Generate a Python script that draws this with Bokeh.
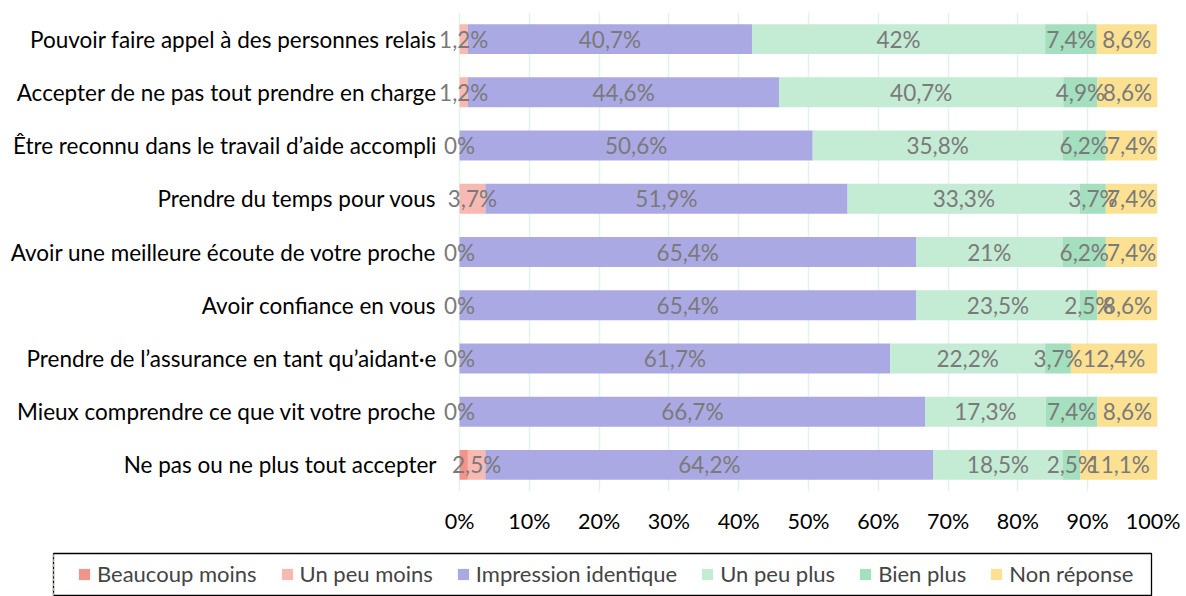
from bokeh.plotting import figure
from bokeh.layouts import column
from bokeh.models import (ColumnDataSource, FactorRange, Legend, LegendItem, LabelSet,
                          FixedTicker, Range1d)
from bokeh.embed import file_html
from bokeh.resources import INLINE
from bokeh.core.properties import value

categories = [
    "Pouvoir faire appel à des personnes relais",
    "Accepter de ne pas tout prendre en charge",
    "Être reconnu dans le travail d’aide accompli",
    "Prendre du temps pour vous",
    "Avoir une meilleure écoute de votre proche",
    "Avoir confiance en vous",
    "Prendre de l’assurance en tant qu’aidant·e",
    "Mieux comprendre ce que vit votre proche",
    "Ne pas ou ne plus tout accepter",
]
series_names = ["Beaucoup moins", "Un peu moins", "Impression identique",
                "Un peu plus", "Bien plus", "Non réponse"]
beaucoup_moins = [0, 0, 0, 0, 0, 0, 0, 0, 1.2]
un_peu_moins = [1.2, 1.2, 0, 3.7, 0, 0, 0, 0, 2.5]
impression_identique = [40.7, 44.6, 50.6, 51.9, 65.4, 65.4, 61.7, 66.7, 64.2]
un_peu_plus = [42, 40.7, 35.8, 33.3, 21, 23.5, 22.2, 17.3, 18.5]
bien_plus = [7.4, 4.9, 6.2, 3.7, 6.2, 2.5, 3.7, 7.4, 2.5]
non_reponse = [8.6, 8.6, 7.4, 7.4, 7.4, 8.6, 12.4, 8.6, 11.1]
x_ticks = [0, 10, 20, 30, 40, 50, 60, 70, 80, 90, 100]
tick_labels = ["0%", "10%", "20%", "30%", "40%", "50%", "60%", "70%", "80%", "90%", "100%"]

colors = ["#f1958c", "#f7b9b1", "#aba9e4", "#c4ebd4", "#a4dfbe", "#fde192"]
show_labels = [False, True, True, True, True, True]
series_values = [beaucoup_moins, un_peu_moins, impression_identique,
                 un_peu_plus, bien_plus, non_reponse]

FONT = "Lato"

p = figure(width=1180, height=550, output_backend="svg", toolbar_location=None,
           y_range=FactorRange(*reversed(categories)), x_range=Range1d(-3.3, 100),
           min_border_left=436, min_border_right=23, min_border_top=12, min_border_bottom=59)
p.outline_line_color = None
p.background_fill_color = "white"
p.frame_align = False

# Legend figure (its frame outline forms the legend box)
lf = figure(width=1180, height=46, output_backend="svg", toolbar_location=None,
            x_range=Range1d(200, 300), y_range=FactorRange(*categories),
            x_axis_type=None, y_axis_type=None,
            min_border_left=53, min_border_right=29, min_border_top=3, min_border_bottom=0)
lf.outline_line_color = "black"
lf.outline_line_width = 1.3
lf.outline_line_dash = "solid"
lf.frame_align = False
lf.xgrid.grid_line_color = None
lf.ygrid.grid_line_color = None

def fmt(v):
    s = ("%g" % v).replace(".", ",")
    return s + "%"

items = []
left = [0.0] * len(categories)
for name, vals, col, lab in zip(series_names, series_values, colors, show_labels):
    right = [l + v for l, v in zip(left, vals)]
    mid = [(l + r) / 2 for l, r in zip(left, right)]
    src = ColumnDataSource(dict(cat=categories, left=left, right=right, mid=mid,
                                txt=[fmt(v) for v in vals]))
    p.hbar(y="cat", left="left", right="right", height=0.563, source=src,
           fill_color=col, line_color=None)
    r = lf.hbar(y="cat", left="left", right="right", height=0.563, source=src,
                fill_color=col, line_color=None)
    items.append(LegendItem(label=name, renderers=[r]))
    if lab:
        ls = LabelSet(x="mid", y="cat", text="txt", source=src, text_align="center",
                      text_baseline="middle", text_color="#7a7a7a",
                      text_font=value(FONT), text_font_size="22.5px")
        p.add_layout(ls)
    left = right

p.xaxis.ticker = FixedTicker(ticks=x_ticks)
p.xaxis.major_label_overrides = {t: l for t, l in zip(x_ticks, tick_labels)}
p.xaxis.axis_line_color = None
p.xaxis.major_tick_line_color = None
p.xaxis.minor_tick_line_color = None
p.xaxis.major_label_standoff = 10
p.xaxis.major_label_text_font = FONT
p.xaxis.major_label_text_font_size = "21.5px"
p.xaxis.major_label_text_color = "black"

p.yaxis.axis_line_color = None
p.yaxis.major_tick_line_color = None
p.yaxis.major_label_standoff = -6
p.yaxis.major_label_text_font = FONT
p.yaxis.major_label_text_font_size = "22.5px"
p.yaxis.major_label_text_color = "black"

p.ygrid.grid_line_color = None
p.xgrid.ticker = FixedTicker(ticks=x_ticks)
p.xgrid.grid_line_color = "#e2f4ea"
p.xgrid.grid_line_width = 1.5

legend = Legend(items=items, orientation="horizontal", location=(24, 9), margin=0,
                label_text_font=FONT, label_text_font_size="22px",
                glyph_width=14, glyph_height=14, label_standoff=6, spacing=23,
                padding=0, border_line_color=None, background_fill_alpha=0,
                label_height=20)
lf.add_layout(legend)

layout = column(p, lf, spacing=0)
open("out.html", "w").write(file_html(layout, INLINE))
